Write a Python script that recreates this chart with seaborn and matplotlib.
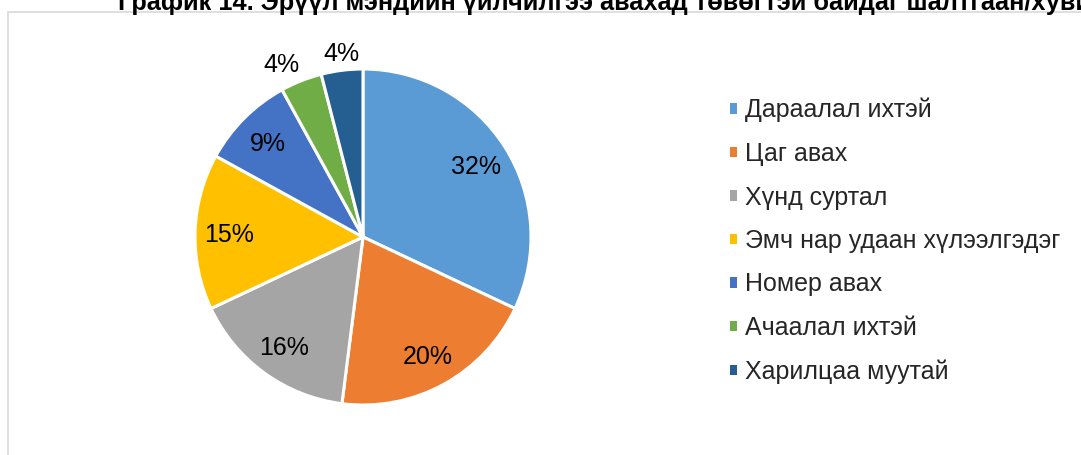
import numpy as np
import seaborn as sns
import matplotlib.pyplot as plt
from matplotlib.patches import Rectangle

# data
labels = ['Дараалал ихтэй', 'Цаг авах', 'Хүнд суртал', 'Эмч нар удаан хүлээлгэдэг',
          'Номер авах', 'Ачаалал ихтэй', 'Харилцаа муутай']
shares = [32, 20, 16, 15, 9, 4, 4]
colors = ['#5B9BD5', '#ED7D31', '#A5A5A5', '#FFC000', '#4472C4', '#70AD47', '#255E91']
title = 'График 14. Эрүүл мэндийн үйлчилгээ авахад төвөгтэй байдаг шалтгаан/хувиар'

sns.set_theme(style='white')
plt.rcParams['font.family'] = ['Liberation Sans', 'DejaVu Sans']

W, H = 1081, 455
fig = plt.figure(figsize=(W / 100, H / 100), dpi=100)

# chart border (cut by the image edges)
fig.patches.append(Rectangle((8 / W, -0.1), 1.2, (H - 12) / H + 0.1, transform=fig.transFigure,
                             fill=False, edgecolor='#D9D9D9', linewidth=1.2))

# title, top half cut off
fig.text(118 / W, 1 - 10 / H, title, ha='left', va='baseline', fontsize=18.3, fontweight='bold',
         family=['Liberation Sans Narrow', 'Liberation Sans'], color='black')

cx, cy, r = 363, H - 237, 168
ax = fig.add_axes([(cx - r) / W, (cy - r) / H, 2 * r / W, 2 * r / H])
pal = sns.color_palette(colors)
wedges, texts, autotexts = ax.pie(shares, colors=pal, startangle=90, counterclock=False,
                                  autopct='%1.0f%%', pctdistance=0.8,
                                  wedgeprops=dict(edgecolor='white', linewidth=2.2),
                                  textprops=dict(fontsize=18, color='black'))
ax.set_xlim(-1, 1)
ax.set_ylim(-1, 1)
ax.set_aspect('equal')
ax.axis('off')

for w, t, v in zip(wedges, autotexts, shares):
    t.set_va('center_baseline')
    # small slices: labels just outside the rim
    if v < 5:
        mid = np.deg2rad((w.theta1 + w.theta2) / 2)
        c, s = np.cos(mid), np.sin(mid)
        t.set_position((1.025 * c, 1.025 * s))
        t.set_va('bottom' if s > 0 else 'top')
        if abs(c) < 0.2:
            t.set_ha('center')
        else:
            t.set_ha('right' if c < 0 else 'left')

leg = fig.legend(wedges, labels, loc='upper left', bbox_to_anchor=(730 / W, 1 - 98 / H),
                 frameon=False, fontsize=18, handlelength=0.29, handleheight=0.29,
                 handletextpad=0.32, labelspacing=0.78, borderpad=0, borderaxespad=0)
for h in leg.legend_handles:
    h.set_edgecolor('none')

fig.savefig('out.png', dpi=100)
